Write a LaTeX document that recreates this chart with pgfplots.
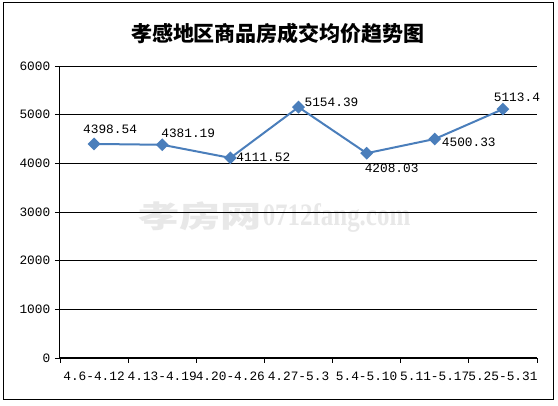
\documentclass[border=0pt]{standalone}
\usepackage{fontspec}
\usepackage{pgfplots}
\pgfplotsset{compat=1.18}
\usepackage{pgfplotstable}
\setmainfont{Liberation Mono}
\newfontfamily\cjk{Noto Sans CJK SC}
\newfontfamily\wmserif{Liberation Serif}
\definecolor{lineblue}{RGB}{74,126,187}
\definecolor{wmgray}{RGB}{232,232,232}

\pgfplotstableread{
x y dx dy label
0 4398.54 16 15 4398.54
1 4381.19 26 11 4381.19
2 4111.52 33 1 4111.52
3 5154.39 33 5 5154.39
4 4208.03 25 -15 4208.03
5 4500.33 34 -3 4500.33
6 5113.4 14 12 5113.4
}\datatable

\begin{document}
\begin{tikzpicture}
\fill[white] (0,0) rectangle (418.5pt,304.5pt);
\draw[black, line width=0.75pt] (2.25pt,4.5pt) rectangle (414.75pt,302.25pt);
\node[font=\cjk\bfseries\fontsize{15.75}{18}\selectfont] at (208.5pt,279pt) {孝感地区商品房成交均价趋势图};
\node[text=wmgray, font=\cjk\bfseries\fontsize{22.5}{24}\selectfont, xscale=1.37] at (150pt,142.5pt) {孝房网};
\node[text=wmgray, font=\wmserif\bfseries\fontsize{18.7}{20}\selectfont, yscale=1.25] at (252.4pt,141pt) {0712fang.com};
\begin{axis}[
  at={(45pt,36pt)}, anchor=south west,
  scale only axis, width=357.75pt, height=219pt,
  xmin=-0.5, xmax=6.5, ymin=0, ymax=6000,
  axis x line*=bottom, axis y line*=left,
  axis line style={-, black, line width=0.75pt},
  xtick={-0.5,0.5,1.5,2.5,3.5,4.5,5.5,6.5}, xticklabels={},
  extra x ticks={0,1,2,3,4,5,6},
  extra x tick labels={4.6-4.12,4.13-4.19,4.20-4.26,4.27-5.3,5.4-5.10,5.11-5.17,5.25-5.31},
  extra x tick style={major tick length=0pt, grid=none, xticklabel style={yshift=-7pt}},
  ytick={0,1000,...,6000},
  ymajorgrids, grid style={black, line width=0.6pt},
  tick align=outside, major tick length=3.75pt,
  tick style={black, line width=0.6pt},
  ticklabel style={font=\fontsize{9.6}{11}\selectfont},
  /pgf/number format/assume math mode=true,
  /pgf/number format/1000 sep={},
  scaled y ticks=false,
  clip=false,
]
\addplot[color=lineblue, line width=1.5pt, mark=square*, mark size=2.65pt,
  mark options={rotate=45, fill=lineblue, solid},
  point meta=explicit symbolic,
  nodes near coords,
  visualization depends on={\thisrow{dx}\as\dx},
  visualization depends on={\thisrow{dy}\as\dy},
  nodes near coords style={anchor=center, text=black, font=\fontsize{9.6}{11}\selectfont, xshift=0.75*\dx, yshift=0.75*\dy},
] table[x=x, y=y, meta=label] {\datatable};
\end{axis}
\end{tikzpicture}
\end{document}
